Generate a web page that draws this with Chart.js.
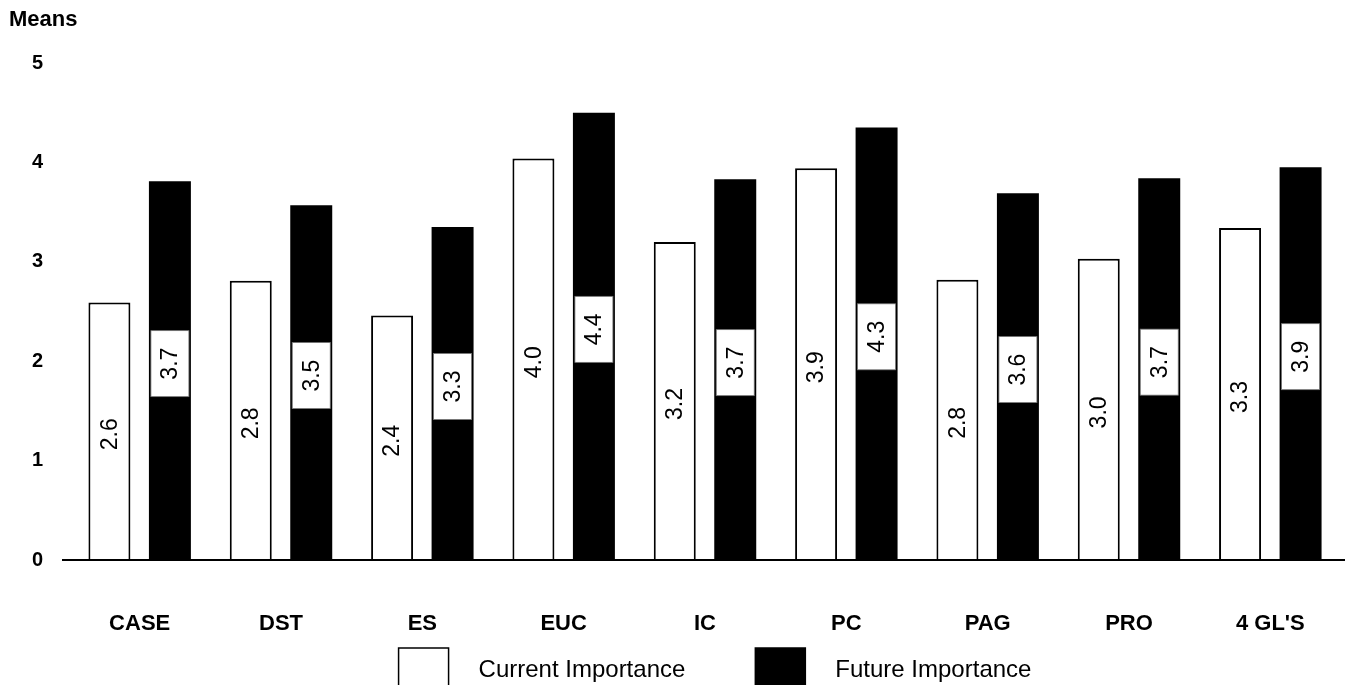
<!DOCTYPE html>
<html><head><meta charset="utf-8">
<script src="https://cdn.jsdelivr.net/npm/chart.js@4.4.0/dist/chart.umd.min.js"></script>
<style>html,body{margin:0;padding:0;background:#fff;}</style>
</head><body>
<canvas id="c" width="1351" height="685"></canvas>
<script>
const categories = ["CASE", "DST", "ES", "EUC", "IC", "PC", "PAG", "PRO", "4 GL'S"];
const currentValues = [2.59, 2.81, 2.46, 4.04, 3.20, 3.94, 2.82, 3.03, 3.34];
const futureValues  = [3.81, 3.57, 3.35, 4.50, 3.83, 4.35, 3.69, 3.84, 3.95];
const currentLabels = ["2.6", "2.8", "2.4", "4.0", "3.2", "3.9", "2.8", "3.0", "3.3"];
const futureLabels  = ["3.7", "3.5", "3.3", "4.4", "3.7", "4.3", "3.6", "3.7", "3.9"];
const seriesNames = ["Current Importance", "Future Importance"];
const yAxisTitle = "Means";
const yMin = 0, yMax = 5, yStep = 1;

const valueLabels = [currentLabels, futureLabels];
const sansBold = "bold 22px 'Liberation Sans', Arial, sans-serif";
const narrowFont = "23px 'Liberation Sans Narrow', 'Arial Narrow', 'Liberation Sans', sans-serif";

const decoPlugin = {
  id: 'deco',
  afterDatasetsDraw(chart) {
    const ctx = chart.ctx;
    const ca = chart.chartArea;
    const y0 = chart.scales.y.getPixelForValue(0);
    ctx.save();
    ctx.strokeStyle = '#000';
    ctx.lineWidth = 2;
    ctx.beginPath();
    ctx.moveTo(ca.left - 7, y0);
    ctx.lineTo(ca.right + 4, y0);
    ctx.stroke();
    ctx.restore();
    chart.data.datasets.forEach((ds, di) => {
      const meta = chart.getDatasetMeta(di);
      meta.data.forEach((el, i) => {
        const p = el.getProps(['x', 'y', 'base', 'width'], true);
        const mid = (p.y + p.base) / 2;
        ctx.save();
        let cy = mid + 3;
        if (di === 1) {
          cy = mid - 7;
          const bw = p.width - 4, bh = 66;
          ctx.fillStyle = '#fff';
          ctx.fillRect(p.x - bw / 2, cy - bh / 2, bw, bh);
          ctx.strokeStyle = '#777';
          ctx.lineWidth = 0.8;
          ctx.strokeRect(p.x - bw / 2, cy - bh / 2, bw, bh);
        }
        ctx.translate(p.x + 1, cy);
        ctx.rotate(-Math.PI / 2);
        ctx.fillStyle = '#000';
        ctx.font = narrowFont;
        ctx.textAlign = 'center';
        ctx.textBaseline = 'middle';
        ctx.fillText(valueLabels[di][i], 0, 0);
        ctx.restore();
      });
    });
  },
  afterDraw(chart) {
    const ctx = chart.ctx;
    const ca = chart.chartArea;
    ctx.save();
    ctx.fillStyle = '#000';
    ctx.font = sansBold;
    ctx.textAlign = 'left';
    ctx.textBaseline = 'middle';
    ctx.fillText(yAxisTitle, 9, 20);
    ctx.font = "24px 'Liberation Sans', Arial, sans-serif";
    const boxW = 50, boxH = 40, textGap = 30, itemGap = 70;
    const widths = chart.data.datasets.map(d => boxW + textGap + ctx.measureText(d.label).width);
    const total = widths.reduce((a, b) => a + b, 0) + itemGap * (widths.length - 1);
    let x = (ca.left + ca.right) / 2 - total / 2 + 10;
    const top = ca.bottom + 88;
    chart.data.datasets.forEach((d, i) => {
      ctx.fillStyle = d.backgroundColor;
      ctx.fillRect(x, top, boxW, boxH);
      ctx.strokeStyle = '#000';
      ctx.lineWidth = 1.5;
      ctx.strokeRect(x, top, boxW, boxH);
      ctx.fillStyle = '#000';
      ctx.fillText(d.label, x + boxW + textGap, top + 22);
      x += widths[i] + itemGap;
    });
    ctx.restore();
  }
};

new Chart(document.getElementById('c'), {
  type: 'bar',
  data: {
    labels: categories,
    datasets: [
      { label: seriesNames[0], data: currentValues, backgroundColor: '#fff', borderColor: '#000', borderWidth: 2 },
      { label: seriesNames[1], data: futureValues, backgroundColor: '#000', borderColor: '#000', borderWidth: 0 }
    ]
  },
  options: {
    responsive: false,
    animation: false,
    devicePixelRatio: 1,
    layout: { padding: { top: 63, right: 10, bottom: 0, left: 0 } },
    datasets: { bar: { categoryPercentage: 0.856, barPercentage: 0.694 } },
    plugins: { legend: { display: false }, tooltip: { enabled: false }, title: { display: false } },
    scales: {
      x: {
        grid: { display: false },
        border: { display: false },
        ticks: { color: '#000', font: { family: "'Liberation Sans', Arial, sans-serif", weight: 'bold', size: 22 }, padding: 43, maxRotation: 0 },
        afterFit(s) { s.height = 125; }
      },
      y: {
        min: yMin, max: yMax,
        grid: { display: false },
        border: { display: false },
        ticks: { stepSize: yStep, color: '#000', font: { family: "'Liberation Sans', Arial, sans-serif", weight: 'bold', size: 20 }, padding: 18 },
        afterFit(s) { s.width = 69; }
      }
    }
  },
  plugins: [decoPlugin]
});
</script>
</body></html>
